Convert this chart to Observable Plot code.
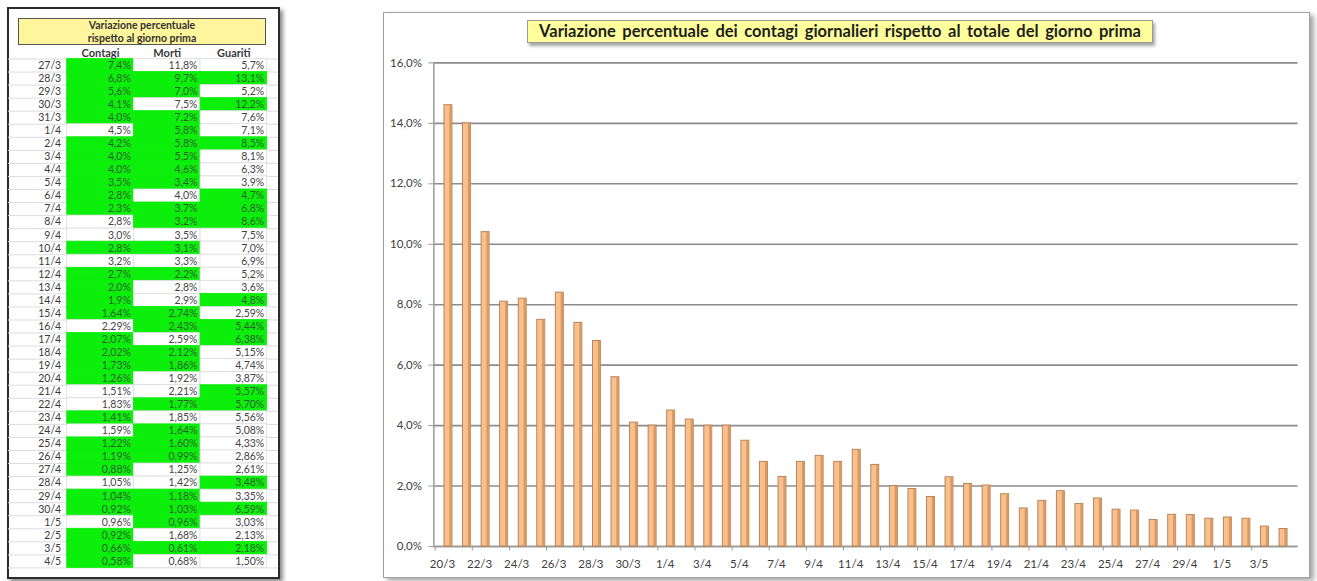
<!DOCTYPE html>
<html>
<head>
<meta charset="utf-8">
<script src="https://cdn.jsdelivr.net/npm/d3@7"></script>
<script src="https://cdn.jsdelivr.net/npm/@observablehq/plot@0.6"></script>
<style>
  html, body { margin: 0; padding: 0; background: #fff; }
  #page { position: relative; width: 1317px; height: 581px; overflow: hidden; font-family: Lato, "Open Sans", sans-serif; }
  .abs { position: absolute; }
  #leftPanel { left: 7px; top: 7px; width: 273px; height: 572px; box-sizing: border-box; border: 2px solid #2b2b2b; box-shadow: 3px 3px 4px rgba(0,0,0,0.45); background: #fff; }
  #tableHead { left: 18px; top: 18px; width: 248px; height: 27px; box-sizing: border-box; border: 1px solid #555; background: #FFF59C; font: 700 10.5px Lato, sans-serif; color: #333; text-align: center; line-height: 12.5px; padding-top: 0px; }
  #rightPanel { left: 383px; top: 12px; width: 927px; height: 566px; box-sizing: border-box; border: 1px solid #a0a0a0; box-shadow: 4px 3px 5px rgba(0,0,0,0.35); background: #fff; }
  #chartTitle { left: 527px; top: 20px; width: 626px; height: 23px; box-sizing: border-box; border: 1px solid #9a9a9a; background: #FFFF9C; box-shadow: 2px 3px 3px rgba(0,0,0,0.35); font: 700 16.5px Lato, sans-serif; word-spacing: 2.5px; color: #1e1e1e; text-align: center; line-height: 21px; white-space: nowrap; }
  #tableSvg { left: 8px; top: 44px; }
  #chartSvg { left: 383px; top: 12px; }
</style>
</head>
<body>
<div id="page">
  <div id="leftPanel" class="abs"></div>
  <div id="tableHead" class="abs"></div>
  <div id="tableSvg" class="abs"></div>
  <div id="rightPanel" class="abs"></div>
  <div id="chartSvg" class="abs"></div>
  <div id="chartTitle" class="abs"></div>
</div>
<script>
// ---------- DATA ----------
const chartDates = ["20/3","21/3","22/3","23/3","24/3","25/3","26/3","27/3","28/3","29/3","30/3","31/3",
  "1/4","2/4","3/4","4/4","5/4","6/4","7/4","8/4","9/4","10/4","11/4","12/4","13/4","14/4","15/4",
  "16/4","17/4","18/4","19/4","20/4","21/4","22/4","23/4","24/4","25/4","26/4","27/4","28/4","29/4","30/4",
  "1/5","2/5","3/5","4/5"];
const contagiChart = [14.6, 14.0, 10.4, 8.1, 8.2, 7.5, 8.4, 7.4, 6.8, 5.6, 4.1, 4.0,
  4.5, 4.2, 4.0, 4.0, 3.5, 2.8, 2.3, 2.8, 3.0, 2.8, 3.2, 2.7, 2.0, 1.9, 1.64,
  2.29, 2.07, 2.02, 1.73, 1.26, 1.51, 1.83, 1.41, 1.59, 1.22, 1.19, 0.88, 1.05, 1.04, 0.92,
  0.96, 0.92, 0.66, 0.58];
const chartTitle = "Variazione percentuale dei contagi giornalieri rispetto al totale del giorno prima";
const yTicks = [0, 2, 4, 6, 8, 10, 12, 14, 16];

const tableTitle = ["Variazione percentuale", "rispetto al giorno prima"];
const tableColumns = ["Contagi", "Morti", "Guariti"];
const tableDates = ["27/3","28/3","29/3","30/3","31/3","1/4","2/4","3/4","4/4","5/4","6/4","7/4","8/4",
  "9/4","10/4","11/4","12/4","13/4","14/4","15/4","16/4","17/4","18/4","19/4","20/4","21/4","22/4",
  "23/4","24/4","25/4","26/4","27/4","28/4","29/4","30/4","1/5","2/5","3/5","4/5"];
const tableContagi = [7.4, 6.8, 5.6, 4.1, 4.0, 4.5, 4.2, 4.0, 4.0, 3.5, 2.8, 2.3, 2.8,
  3.0, 2.8, 3.2, 2.7, 2.0, 1.9, 1.64, 2.29, 2.07, 2.02, 1.73, 1.26, 1.51, 1.83,
  1.41, 1.59, 1.22, 1.19, 0.88, 1.05, 1.04, 0.92, 0.96, 0.92, 0.66, 0.58];
const tableMorti = [11.8, 9.7, 7.0, 7.5, 7.2, 5.8, 5.8, 5.5, 4.6, 3.4, 4.0, 3.7, 3.2,
  3.5, 3.1, 3.3, 2.2, 2.8, 2.9, 2.74, 2.43, 2.59, 2.12, 1.86, 1.92, 2.21, 1.77,
  1.85, 1.64, 1.60, 0.99, 1.25, 1.42, 1.18, 1.03, 0.96, 1.68, 0.61, 0.68];
const tableGuariti = [5.7, 13.1, 5.2, 12.2, 7.6, 7.1, 8.5, 8.1, 6.3, 3.9, 4.7, 6.8, 8.6,
  7.5, 7.0, 6.9, 5.2, 3.6, 4.8, 2.59, 5.44, 6.38, 5.15, 4.74, 3.87, 5.57, 5.70,
  5.56, 5.08, 4.33, 2.86, 2.61, 3.48, 3.35, 6.59, 3.03, 2.13, 2.18, 1.50];
const twoDecimalsFrom = "15/4";

// ---------- TEXT ----------
document.getElementById("chartTitle").textContent = chartTitle;
const th = document.getElementById("tableHead");
tableTitle.forEach((t, i) => { if (i) th.appendChild(document.createElement("br")); th.appendChild(document.createTextNode(t)); });

// ---------- HELPERS ----------
const pct = (v, d) => v.toFixed(d).replace(".", ",") + "%";

// ---------- TABLE (Plot) ----------
const switchIdx = tableDates.indexOf(twoDecimalsFrom);
const prevContagi = contagiChart[chartDates.indexOf(tableDates[0]) - 1];
const cells = [];
tableDates.forEach((d, i) => {
  const dec = i < switchIdx ? 1 : 2;
  const c = tableContagi[i], m = tableMorti[i], g = tableGuariti[i];
  const cPrev = i > 0 ? tableContagi[i - 1] : prevContagi;
  cells.push({date: d, col: "Contagi", value: c, text: pct(c, dec), good: c <= cPrev});
  cells.push({date: d, col: "Morti", value: m, text: pct(m, dec), good: i > 0 && m <= tableMorti[i - 1]});
  cells.push({date: d, col: "Guariti", value: g, text: pct(g, dec), good: i > 0 && g > tableGuariti[i - 1]});
});

const tW = 270, tML = 58.7, tMR = 11.3, tMT = 14.5, rowH = 13.05;
const tMB = 10;
const tH = tMT + rowH * tableDates.length + tMB;
const colW = (tW - tML - tMR) / tableColumns.length;

const table = Plot.plot({
  width: tW, height: tH,
  marginLeft: tML, marginRight: tMR, marginTop: tMT, marginBottom: tMB,
  style: {fontFamily: "Lato, 'Open Sans', sans-serif", color: "#3a3a3a", background: "transparent"},
  x: {domain: tableColumns, padding: 0, round: false, axis: null},
  y: {domain: tableDates, padding: 0, round: false, axis: null},
  marks: [
    Plot.ruleY(tableDates, {y: d => d, dy: rowH / 2, stroke: "#dcdcdc", insetLeft: -tML, insetRight: -tMR}),
    Plot.ruleY(tableDates.slice(0, 1), {y: d => d, dy: -rowH / 2, stroke: "#dcdcdc", insetLeft: -tML, insetRight: -tMR}),
    Plot.cell(cells, {x: "col", y: "date", fill: d => d.good ? "#0BEF0B" : "#ffffff", stroke: d => d.good ? "#0BEF0B" : "#dcdcdc", strokeWidth: 0.8}),
    Plot.text(cells, {x: "col", y: "date", text: "text", textAnchor: "end", dx: colW / 2 - 3, fontSize: 10.5, fill: d => d.good ? "#2f5f2f" : "#444"}),
    Plot.axisY({tickSize: 0, tickPadding: 6, fontSize: 10.5, label: null}),
    Plot.axisX({anchor: "top", tickSize: 0, tickPadding: 2, fontSize: 11, fontWeight: "bold", label: null})
  ]
});
document.getElementById("tableSvg").appendChild(table);

// ---------- CHART (Plot) ----------
const data = chartDates.map((d, i) => ({date: d, value: contagiChart[i]}));
const cW = 927, cH = 566, cML = 50.4, cMR = 12.4, cMT = 50.4, cMB = 32;
const pad = 0.57;
const step = (cW - cML - cMR) / (chartDates.length + pad);
const bw = step * (1 - pad);
const firstCenterOffset = step * (1 + pad) / 2;
const labelDates = chartDates.filter((d, i) => i % 2 === 0);

const chart = Plot.plot({
  width: cW, height: cH,
  marginLeft: cML, marginRight: cMR, marginTop: cMT, marginBottom: cMB,
  style: {fontFamily: "Lato, 'Open Sans', sans-serif", color: "#404040", background: "transparent"},
  x: {domain: chartDates, padding: pad, round: false, label: null},
  y: {domain: [0, 16], label: null},
  marks: [
    Plot.gridY({ticks: yTicks, stroke: "#8c8c8c", strokeOpacity: 1, strokeWidth: 1.6}),
    Plot.ruleX(chartDates.slice(0, 1), {x: d => d, dx: -firstCenterOffset, y1: 0, y2: 16, stroke: "#9a9a9a", strokeWidth: 1.5}),
    Plot.ruleY([0], {stroke: "#9a9a9a", strokeWidth: 1.5}),
    Plot.ruleX(labelDates, {x: d => d, dx: -step / 2 - 4, y1: 0, y2: -0.15, stroke: "#9a9a9a"}),
    Plot.barY(data, {x: "date", y: "value", fill: "#F9BF8D", stroke: "#B27C52", strokeWidth: 0.9}),
    Plot.barY(data, {x: "date", y: "value", fill: "#D99A62", insetLeft: bw - 2.6, insetTop: 0.5}),
    Plot.axisY({ticks: yTicks, tickSize: 5, tickPadding: 7, fontSize: 11.5, tickFormat: d => pct(d, 1), stroke: "#9a9a9a"}),
    Plot.axisX({ticks: labelDates, tickSize: 0, tickPadding: 13, fontSize: 11.5, dx: -6})
  ]
});
document.getElementById("chartSvg").appendChild(chart);
</script>
</body>
</html>
